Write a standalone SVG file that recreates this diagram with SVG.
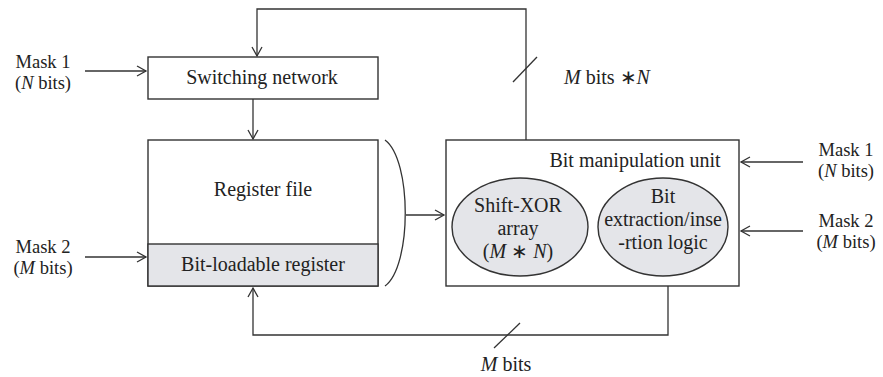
<svg xmlns="http://www.w3.org/2000/svg" width="883" height="377" viewBox="0 0 883 377">
<style>
.box{fill:#fff;stroke:#333;stroke-width:1.4}
.shade{fill:#e4e5e9;stroke:#333;stroke-width:1.4}
.ln{fill:none;stroke:#333;stroke-width:1.3}
text{font-family:"Liberation Serif","Times New Roman",serif;font-size:20px;fill:#222;text-anchor:middle}
.mask{font-size:18.5px}
.it{font-style:italic}
</style>
<defs>
<marker id="ah" markerUnits="userSpaceOnUse" markerWidth="12" markerHeight="12" refX="10" refY="6" orient="auto">
<path d="M1,1 L10,6 L1,11" fill="none" stroke="#333" stroke-width="1.3"/>
</marker>
</defs>
<rect width="883" height="377" fill="#fff"/>
<g id="connectors">
<path class="ln" d="M526,162 V9 H257 V56" marker-end="url(#ah)"/>
<line class="ln" x1="513" y1="82" x2="537" y2="57"/>
<path class="ln" d="M253,99 V139" marker-end="url(#ah)"/>
<path class="ln" d="M85,71 H146" marker-end="url(#ah)"/>
<path class="ln" d="M85,257 H146" marker-end="url(#ah)"/>
<path class="ln" d="M385,140 C412,160 412,266 385,286"/>
<path class="ln" d="M406,215 H444" marker-end="url(#ah)"/>
<path class="ln" d="M803,162 H741" marker-end="url(#ah)"/>
<path class="ln" d="M803,231 H741" marker-end="url(#ah)"/>
<path class="ln" d="M668,280 V335 H253 V288" marker-end="url(#ah)"/>
<line class="ln" x1="494" y1="348" x2="520" y2="323"/>
</g>
<g id="switching-network">
<rect class="box" x="148" y="57" width="230" height="42"/>
<text x="262" y="84">Switching network</text>
</g>
<g id="register-file">
<rect class="box" x="148" y="140" width="230" height="146"/>
<text x="263" y="196">Register file</text>
</g>
<g id="bit-loadable-register">
<rect class="shade" x="148" y="244" width="230" height="42"/>
<text x="263" y="271">Bit-loadable register</text>
</g>
<g id="bit-manipulation-unit">
<rect class="box" x="446" y="140" width="293" height="146"/>
<text x="635" y="167">Bit manipulation unit</text>
</g>
<g id="shift-xor-array">
<ellipse class="shade" cx="520" cy="227" rx="68" ry="49"/>
<text x="518" y="212">Shift-XOR<tspan x="518" dy="23">array</tspan><tspan x="518" dy="23">(<tspan class="it">M</tspan> ∗ <tspan class="it">N</tspan>)</tspan></text>
</g>
<g id="bit-extraction-logic">
<ellipse class="shade" cx="663" cy="227" rx="65" ry="49"/>
<text x="663" y="203">Bit<tspan x="663" dy="23">extraction/inse</tspan><tspan x="663" dy="23">-rtion logic</tspan></text>
</g>
<g id="mask1-left">
<text class="mask" x="43" y="68">Mask 1<tspan x="43" dy="21">(<tspan class="it">N</tspan> bits)</tspan></text>
</g>
<g id="mask2-left">
<text class="mask" x="43" y="253">Mask 2<tspan x="43" dy="21">(<tspan class="it">M</tspan> bits)</tspan></text>
</g>
<g id="mask1-right">
<text class="mask" x="846" y="156">Mask 1<tspan x="846" dy="21">(<tspan class="it">N</tspan> bits)</tspan></text>
</g>
<g id="mask2-right">
<text class="mask" x="846" y="227">Mask 2<tspan x="846" dy="21">(<tspan class="it">M</tspan> bits)</tspan></text>
</g>
<g id="labels">
<text x="607" y="84"><tspan class="it">M</tspan> bits ∗<tspan class="it">N</tspan></text>
<text x="506" y="371"><tspan class="it">M</tspan> bits</text>
</g>
</svg>
